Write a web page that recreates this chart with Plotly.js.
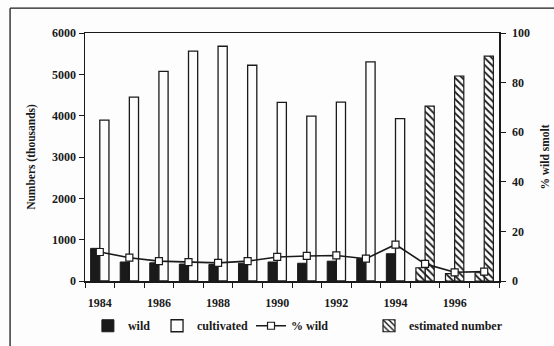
<!DOCTYPE html>
<html>
<head>
<meta charset="utf-8">
<script src="https://cdn.plot.ly/plotly-3.0.1.min.js"></script>
<style>
  html, body { margin: 0; padding: 0; background: #fdfdfd; }
  #chart { width: 554px; height: 346px; }
</style>
</head>
<body>
<div id="chart"></div>
<script>
// Smolt numbers (thousands), wild vs cultivated, with estimated years
const years = [1984, 1985, 1986, 1987, 1988, 1989, 1990, 1991, 1992, 1993, 1994];
const wild = [790, 460, 440, 410, 400, 430, 460, 430, 480, 540, 660];
const cultivated = [3890, 4450, 5070, 5560, 5680, 5220, 4320, 3990, 4330, 5300, 3930];

const estYears = [1995, 1996, 1997];
const estWild = [320, 180, 200];
const estCultivated = [4230, 4960, 5440];

// Share of wild smolt (%), right-hand axis
const pctYears = [1984, 1985, 1986, 1987, 1988, 1989, 1990, 1991, 1992, 1993, 1994, 1995, 1996, 1997];
const pctWild = [11.7, 9.4, 8.0, 7.6, 7.3, 8.0, 9.7, 10.1, 10.3, 9.0, 14.7, 6.9, 3.5, 3.8];

const yearLabels = ['1984', '1986', '1988', '1990', '1992', '1994', '1996'];
const yearLabelVals = [1984, 1986, 1988, 1990, 1992, 1994, 1996];

const ink = '#1a1a1a';
const serif = 'Liberation Serif, Times New Roman, serif';
const hatch = { shape: '\\', fgcolor: ink, bgcolor: '#fdfdfd', size: 5, solidity: 0.35 };

const traces = [
  {
    type: 'bar', name: 'wild', x: years, y: wild, offsetgroup: 'w', legend: 'legend',
    marker: { color: ink, line: { color: ink, width: 1 } }
  },
  {
    type: 'bar', name: 'cultivated', x: years, y: cultivated, offsetgroup: 'c', legend: 'legend2',
    marker: { color: '#fdfdfd', line: { color: ink, width: 1.3 } }
  },
  {
    type: 'scatter', mode: 'lines+markers', name: '% wild', x: pctYears, y: pctWild,
    yaxis: 'y2', legend: 'legend3',
    line: { color: ink, width: 1.6 },
    marker: { symbol: 'square', size: 7, color: '#ffffff', line: { color: ink, width: 1.2 } }
  },
  {
    type: 'bar', name: 'estimated number', x: estYears, y: estCultivated, offsetgroup: 'c', legend: 'legend4',
    marker: { color: '#fdfdfd', pattern: hatch, line: { color: ink, width: 1.2 } }
  },
  {
    type: 'bar', name: 'estimated number', x: estYears, y: estWild, offsetgroup: 'w', legend: 'legend4',
    showlegend: false,
    marker: { color: '#fdfdfd', pattern: hatch, line: { color: ink, width: 1.2 } }
  }
];

const tickFont = { family: serif, size: 12, color: ink, weight: 'bold' };
const titleFont = { family: serif, size: 11.5, color: ink, weight: 'bold' };

function legendAt(x) {
  return {
    orientation: 'h', x: x, y: -0.122, xanchor: 'left', yanchor: 'top',
    font: { family: serif, size: 12, color: ink, weight: 'bold' },
    itemwidth: 30, bgcolor: 'rgba(0,0,0,0)'
  };
}

const layout = {
  width: 554, height: 346,
  margin: { l: 85, r: 55, t: 33, b: 65, autoexpand: false },
  paper_bgcolor: '#fdfdfd',
  plot_bgcolor: '#fdfdfd',
  barmode: 'group',
  bargap: 0.38,
  bargroupgap: 0,
  showlegend: true,
  legend: legendAt(0.007),
  legend2: legendAt(0.174),
  legend3: legendAt(0.401),
  legend4: legendAt(0.686),
  xaxis: {
    range: [1983.5, 1997.5],
    tickmode: 'array', tickvals: yearLabelVals, ticktext: yearLabels,
    ticks: '', tickfont: tickFont, ticklabelstandoff: 10,
    showgrid: false, zeroline: false,
    showline: true, linecolor: ink, linewidth: 1.5, mirror: true,
    minor: { tickmode: 'linear', tick0: 1983.5, dtick: 1, ticks: 'outside', ticklen: 5, tickcolor: ink, tickwidth: 1, showgrid: false }
  },
  yaxis: {
    range: [0, 6000], dtick: 1000,
    ticks: 'outside', ticklen: 5, tickcolor: ink, tickwidth: 1,
    tickfont: tickFont,
    showgrid: false, zeroline: false,
    showline: true, linecolor: ink, linewidth: 1.5,
    title: { text: 'Numbers (thousands)', font: titleFont, standoff: 14 }
  },
  yaxis2: {
    overlaying: 'y', side: 'right',
    range: [0, 100], dtick: 20,
    ticks: 'outside', ticklen: 5, tickcolor: ink, tickwidth: 1,
    tickfont: tickFont, ticklabelstandoff: 4,
    showgrid: false, zeroline: false,
    showline: true, linecolor: ink, linewidth: 1.5,
    title: { text: '% wild smolt', font: titleFont, standoff: 12 }
  },
  shapes: [
    // outer frame around the figure
    { type: 'line', xref: 'paper', yref: 'paper', x0: -0.181, x1: -0.181, y0: -0.28, y1: 1.1, line: { color: ink, width: 1.3 } },
    { type: 'line', xref: 'paper', yref: 'paper', x0: -0.181, x1: 1.14, y0: 1.1, y1: 1.1, line: { color: ink, width: 1.3 } }
  ]
};

Plotly.newPlot('chart', traces, layout, { displayModeBar: false, staticPlot: true });
</script>
</body>
</html>
